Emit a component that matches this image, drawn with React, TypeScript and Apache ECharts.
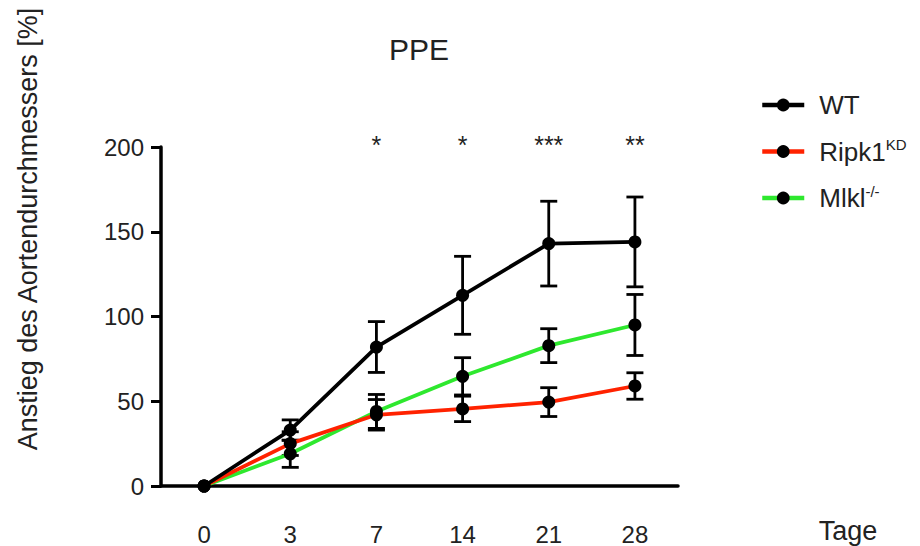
import React, { useEffect, useRef } from "react";
import * as echarts from "echarts";

const categories = ["0", "3", "7", "14", "21", "28"];
const wtMean = [0, 33, 82, 112.5, 143, 144];
const wtErr = [0, 6, 15, 23, 25, 26.5];
const ripkMean = [0, 25, 42, 45.5, 49.5, 59];
const ripkErr = [0, 7, 9, 7.5, 8.5, 7.8];
const mlklMean = [0, 19, 44, 64.7, 82.8, 95];
const mlklErr = [0, 8, 10, 11, 10, 18];
const sigLabels = ["", "", "*", "*", "***", "**"];
const yTicks = [0, 50, 100, 150, 200];

const FONT = "'Liberation Sans', Arial, Helvetica, sans-serif";

function errorSeries(name: string, mean: number[], err: number[]) {
  const data = mean
    .map((m, i) => [i, m - err[i], m + err[i]])
    .filter((d, i) => err[i] > 0);
  return {
    type: "custom",
    name: name + "_err",
    z: 3,
    data,
    encode: { x: 0, y: [1, 2] },
    renderItem: (params: any, api: any) => {
      const lo = api.coord([api.value(0), api.value(1)]);
      const hi = api.coord([api.value(0), api.value(2)]);
      const hw = 8.5;
      const style = { stroke: "#000", lineWidth: 2.8 };
      return {
        type: "group",
        children: [
          { type: "line", shape: { x1: lo[0], y1: lo[1], x2: hi[0], y2: hi[1] }, style },
          { type: "line", shape: { x1: hi[0] - hw, y1: hi[1], x2: hi[0] + hw, y2: hi[1] }, style },
          { type: "line", shape: { x1: lo[0] - hw, y1: lo[1], x2: lo[0] + hw, y2: lo[1] }, style },
        ],
      };
    },
  };
}

function lineSeries(name: string, mean: number[], color: string, z: number) {
  return {
    type: "line",
    name,
    data: mean,
    z,
    symbol: "circle",
    symbolSize: 13,
    lineStyle: { color, width: 3.8 },
    itemStyle: { color: "#000" },
    emphasis: { disabled: true },
  };
}

export default function App() {
  const ref = useRef<HTMLDivElement>(null);
  useEffect(() => {
    if (!ref.current) return;
    const chart = echarts.init(ref.current, undefined, { renderer: "svg" });
    const option: any = {
      animation: false,
      backgroundColor: "#fff",
      textStyle: { fontFamily: FONT },
      grid: { left: 161, top: 147, width: 517, height: 342 },
      legend: {
        orient: "vertical",
        left: 755,
        top: 87,
        itemWidth: 42,
        itemHeight: 16,
        itemGap: 19,
        data: ["WT", "Ripk1", "Mlkl"],
        lineStyle: { width: 4.5 },
        textStyle: {
          fontSize: 26,
          color: "#222",
          fontFamily: FONT,
          padding: [0, 0, 0, 10],
          rich: {
            sup: { fontSize: 15, color: "#222", fontFamily: FONT, padding: [0, 0, 14, 0] },
          },
        },
        formatter: (n: string) => (n === "Ripk1" ? "Ripk1{sup|KD}" : n === "Mlkl" ? "Mlkl{sup|-/-}" : n),
      },
      xAxis: {
        type: "category",
        data: categories,
        boundaryGap: true,
        axisLine: { lineStyle: { color: "#000", width: 3.5 } },
        axisTick: { alignWithLabel: true, length: 11, lineStyle: { color: "#000", width: 3 } },
        axisLabel: { fontSize: 24, color: "#222", margin: 36, fontFamily: FONT },
      },
      yAxis: {
        type: "value",
        min: 0,
        max: 200,
        interval: 50,
        splitLine: { show: false },
        axisLine: { show: true, lineStyle: { color: "#000", width: 3.5 } },
        axisTick: { show: true, length: 10, lineStyle: { color: "#000", width: 3 } },
        axisLabel: {
          fontSize: 24,
          color: "#222",
          margin: 17,
          fontFamily: FONT,
          formatter: (v: number) => (yTicks.includes(v) ? String(v) : ""),
        },
      },
      graphic: [
        {
          type: "text",
          x: 419,
          y: 49,
          style: { text: "PPE", font: `30px ${FONT}`, fill: "#222", align: "center", verticalAlign: "middle" },
        },
        {
          type: "text",
          x: 28,
          y: 229,
          rotation: Math.PI / 2,
          style: {
            text: "Anstieg des Aortendurchmessers [%]",
            font: `27px ${FONT}`,
            fill: "#222",
            align: "center",
            verticalAlign: "middle",
          },
        },
        {
          type: "text",
          x: 848,
          y: 531,
          style: { text: "Tage", font: `27px ${FONT}`, fill: "#222", align: "center", verticalAlign: "middle" },
        },
      ],
      series: [
        errorSeries("WT", wtMean, wtErr),
        errorSeries("Ripk1", ripkMean, ripkErr),
        errorSeries("Mlkl", mlklMean, mlklErr),
        lineSeries("Mlkl", mlklMean, "#2ee82e", 4),
        lineSeries("Ripk1", ripkMean, "#ff2200", 5),
        lineSeries("WT", wtMean, "#000", 6),
        {
          type: "custom",
          name: "sig",
          z: 7,
          data: sigLabels.map((s, i) => [i, 200]),
          encode: { x: 0, y: 1 },
          renderItem: (params: any, api: any) => {
            const label = sigLabels[params.dataIndex];
            if (!label) return null;
            const p = api.coord([api.value(0), api.value(1)]);
            return {
              type: "text",
              x: p[0],
              y: p[1] - 15,
              style: { text: label, font: `25px ${FONT}`, fill: "#222", align: "center", verticalAlign: "top" },
            };
          },
        },
      ],
    };
    chart.setOption(option);
    return () => chart.dispose();
  }, []);
  return (
    <div
      ref={ref}
      style={{ position: "fixed", left: 0, top: 0, width: 920, height: 546 }}
    />
  );
}
